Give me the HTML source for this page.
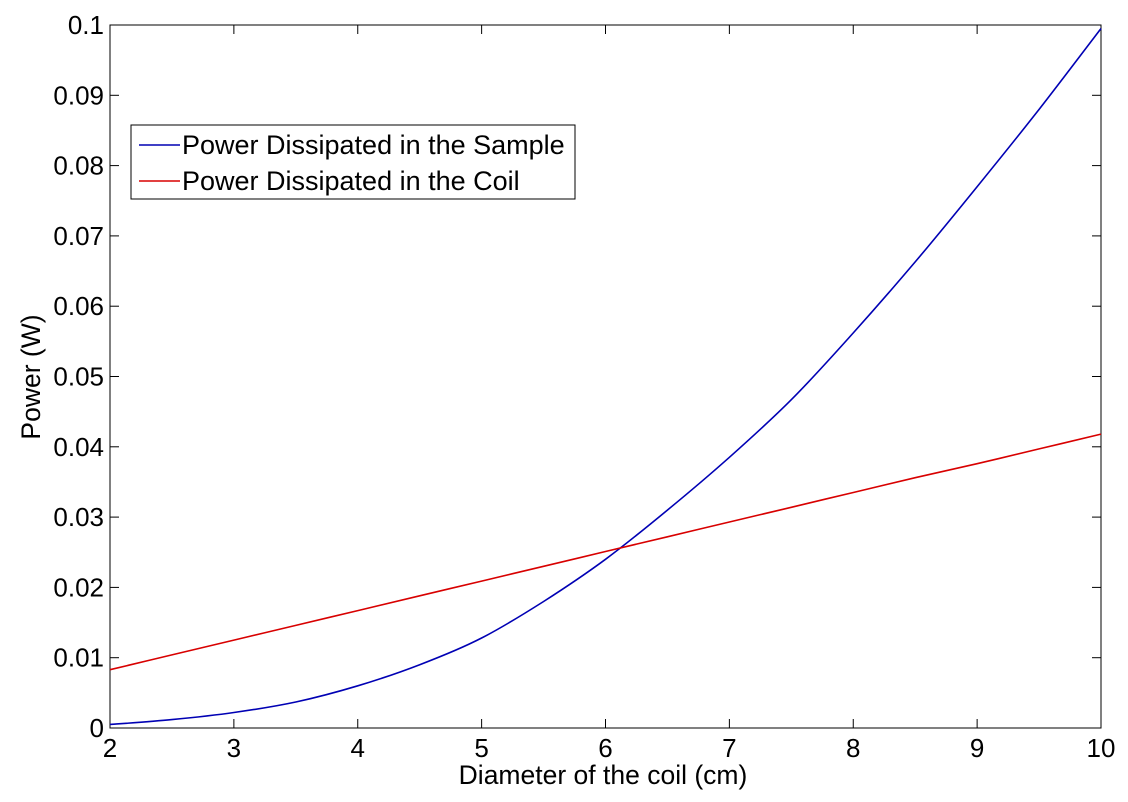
<!DOCTYPE html>
<html><head><meta charset="utf-8"><style>
body{margin:0;background:#fff;}
svg text{font-family:"Liberation Sans",sans-serif;fill:#000;}
</style></head><body>
<svg id="chart" width="1128" height="797" xmlns="http://www.w3.org/2000/svg">
<rect width="1128" height="797" fill="#fff"/>
<g id="axes"></g>
<g id="series"></g>
<text x="603" y="784" font-size="26.5" text-anchor="middle">Diameter of the coil (cm)</text>
<text transform="translate(40,377) rotate(-90)" font-size="26.5" text-anchor="middle">Power (W)</text>
<g>
<rect x="131" y="125" width="444" height="74" fill="#fff" stroke="#000" stroke-width="1"/>
<line x1="139" y1="145" x2="180" y2="145" stroke="#0000b4" stroke-width="1.5"/>
<text x="182" y="154" font-size="27">Power Dissipated in the Sample</text>
<line x1="139" y1="181" x2="180" y2="181" stroke="#d80000" stroke-width="1.5"/>
<text x="182" y="190" font-size="27">Power Dissipated in the Coil</text>
</g>
</svg>
<script>
const xValues=[2,2.5,3,3.5,4,4.5,5,5.5,6,6.5,7,7.5,8,8.5,9,9.5,10];
const sampleValues=[0.0005,0.0012,0.0022,0.0037,0.0060,0.0090,0.0128,0.0180,0.0240,0.0310,0.0385,0.0467,0.0562,0.0663,0.0770,0.0880,0.0995];
const coilValues=[0.0083,0.0104,0.0125,0.0146,0.0167,0.0188,0.0209,0.0230,0.0251,0.0272,0.0293,0.0314,0.0335,0.0356,0.0376,0.0397,0.0418];
const xTicks=[2,3,4,5,6,7,8,9,10];
const yTicks=[0,0.01,0.02,0.03,0.04,0.05,0.06,0.07,0.08,0.09,0.1];
const L=110,R=1101,T=25,B=728;
const xs=v=>L+(v-2)/8*(R-L);
const ys=v=>B-v/0.1*(B-T);
const NS="http://www.w3.org/2000/svg";
const ax=document.getElementById('axes'),se=document.getElementById('series');
function mk(tag,attrs,parent){const e=document.createElementNS(NS,tag);for(const k in attrs)e.setAttribute(k,attrs[k]);parent.appendChild(e);return e;}
const frame=mk('rect',{x:L,y:T,width:R-L,height:B-T,fill:'none',stroke:'#000','stroke-width':1},ax);


xTicks.forEach(t=>{const x=xs(t);
mk('line',{x1:x,y1:B,x2:x,y2:B-9,stroke:'#000'},ax);
mk('line',{x1:x,y1:T,x2:x,y2:T+9,stroke:'#000'},ax);
const tx=mk('text',{x:x,y:B+29,'font-size':26,'text-anchor':'middle'},ax);tx.textContent=t;

});
yTicks.forEach(t=>{const y=ys(t);
mk('line',{x1:L,y1:y,x2:L+9,y2:y,stroke:'#000'},ax);
mk('line',{x1:R,y1:y,x2:R-9,y2:y,stroke:'#000'},ax);
const tx=mk('text',{x:L-6,y:y+9,'font-size':26,'text-anchor':'end'},ax);tx.textContent=String(t);

});
function line(vals,color,name){
const P=vals.map((v,i)=>[xs(xValues[i]),ys(v)]);
let d='M'+P[0][0].toFixed(1)+','+P[0][1].toFixed(1);
for(let i=0;i<P.length-1;i++){const p0=P[Math.max(i-1,0)],p1=P[i],p2=P[i+1],p3=P[Math.min(i+2,P.length-1)];
const c1=[p1[0]+(p2[0]-p0[0])/6,p1[1]+(p2[1]-p0[1])/6],c2=[p2[0]-(p3[0]-p1[0])/6,p2[1]-(p3[1]-p1[1])/6];
d+=' C'+c1.map(n=>n.toFixed(1)).join(',')+' '+c2.map(n=>n.toFixed(1)).join(',')+' '+p2.map(n=>n.toFixed(1)).join(',');}
const p=mk('path',{d:d,fill:'none',stroke:color,'stroke-width':1.6},se);

}
line(sampleValues,'#0000b4','sample-power-line');
line(coilValues,'#d80000','coil-power-line');
</script>
</body></html>
